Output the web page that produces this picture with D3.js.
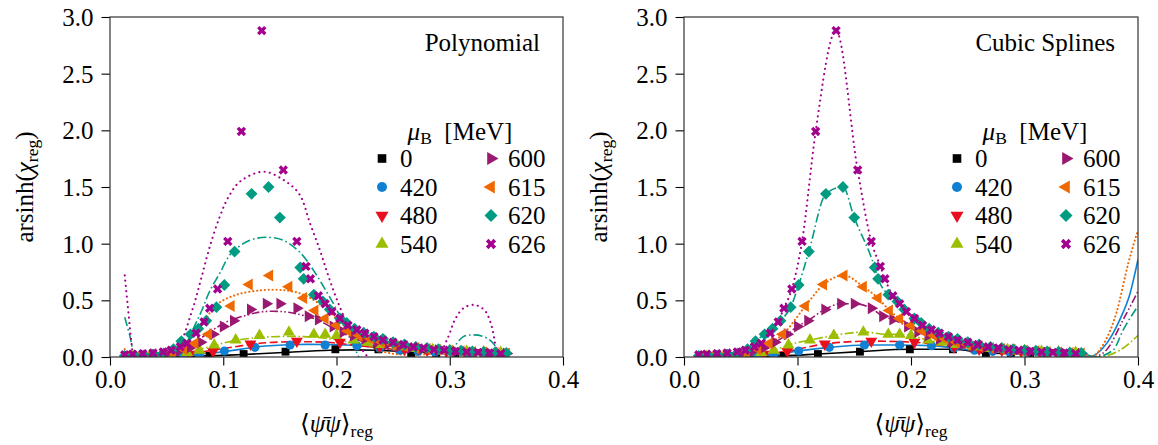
<!DOCTYPE html>
<html>
<head>
<meta charset="utf-8">
<script src="https://cdn.jsdelivr.net/npm/d3@7"></script>
<style>
  body { margin: 0; background: #fff; }
</style>
</head>
<body>
<div id="chart"></div>
<script>
// mu_B values (MeV) and tick labels
const muLabels = ['0', '420', '480', '540', '600', '615', '620', '626'];
const xTicks = [0.0, 0.1, 0.2, 0.3, 0.4];
const yTicks = [0.0, 0.5, 1.0, 1.5, 2.0, 2.5, 3.0];

// measured points [<psibar psi>_reg, arsinh(chi_reg)]
const pts0 = [[0.045,0.003],[0.068,0.006],[0.088,0.01],[0.118,0.026],[0.155,0.047],[0.199,0.068],[0.237,0.068],[0.266,0.035],[0.288,0.03],[0.305,0.027],[0.32,0.024],[0.333,0.022],[0.345,0.02]];
const pts420 = [[0.03,0.005],[0.05,0.01],[0.065,0.015],[0.079,0.02],[0.101,0.053],[0.128,0.085],[0.159,0.106],[0.19,0.106],[0.218,0.1],[0.238,0.08],[0.256,0.06],[0.272,0.05],[0.287,0.045],[0.302,0.04],[0.316,0.035],[0.331,0.03],[0.345,0.025]];
const pts480 = [[0.03,0.005],[0.05,0.01],[0.07,0.025],[0.091,0.05],[0.124,0.115],[0.165,0.14],[0.203,0.13],[0.238,0.09],[0.26,0.07],[0.28,0.06],[0.297,0.05],[0.313,0.045],[0.329,0.04],[0.345,0.035]];
const pts540 = [[0.02,0.005],[0.035,0.01],[0.05,0.02],[0.068,0.04],[0.079,0.06],[0.092,0.106],[0.111,0.15],[0.132,0.19],[0.158,0.22],[0.18,0.2],[0.19,0.2],[0.2,0.19],[0.215,0.15],[0.227,0.13],[0.24,0.11],[0.255,0.09],[0.27,0.075],[0.285,0.065],[0.3,0.055],[0.315,0.05],[0.33,0.045],[0.345,0.04]];
const pts600 = [[0.02,0.01],[0.03,0.015],[0.04,0.02],[0.05,0.03],[0.06,0.05],[0.07,0.08],[0.08,0.13],[0.091,0.2],[0.1,0.27],[0.109,0.32],[0.124,0.42],[0.138,0.47],[0.15,0.47],[0.165,0.43],[0.175,0.36],[0.184,0.33],[0.197,0.27],[0.206,0.22],[0.215,0.19],[0.225,0.16],[0.235,0.13],[0.245,0.11],[0.255,0.09],[0.265,0.08],[0.275,0.07],[0.29,0.06],[0.305,0.05],[0.32,0.04],[0.335,0.035],[0.35,0.03]];
const pts615 = [[0.015,0.01],[0.025,0.012],[0.035,0.015],[0.045,0.02],[0.055,0.04],[0.065,0.07],[0.075,0.12],[0.087,0.2],[0.107,0.45],[0.123,0.64],[0.141,0.72],[0.158,0.62],[0.171,0.52],[0.181,0.41],[0.19,0.34],[0.2,0.28],[0.21,0.23],[0.22,0.19],[0.23,0.16],[0.24,0.13],[0.25,0.11],[0.26,0.095],[0.27,0.08],[0.28,0.07],[0.289,0.065],[0.3,0.055],[0.31,0.05],[0.32,0.045],[0.33,0.04],[0.34,0.035],[0.35,0.03]];
const pts620 = [[0.013,0.01],[0.022,0.012],[0.03,0.015],[0.038,0.02],[0.046,0.025],[0.056,0.07],[0.063,0.14],[0.071,0.2],[0.078,0.25],[0.085,0.32],[0.094,0.44],[0.101,0.635],[0.11,0.93],[0.125,1.44],[0.14,1.5],[0.15,1.23],[0.168,0.79],[0.171,0.69],[0.18,0.55],[0.188,0.49],[0.194,0.42],[0.203,0.34],[0.209,0.3],[0.216,0.25],[0.224,0.215],[0.233,0.18],[0.241,0.16],[0.25,0.13],[0.26,0.11],[0.27,0.09],[0.28,0.08],[0.29,0.07],[0.3,0.06],[0.31,0.055],[0.32,0.05],[0.33,0.045],[0.34,0.04],[0.35,0.035]];
const pts626 = [[0.013,0.02],[0.02,0.025],[0.029,0.03],[0.038,0.035],[0.047,0.045],[0.054,0.06],[0.062,0.09],[0.068,0.12],[0.076,0.21],[0.083,0.31],[0.088,0.43],[0.095,0.6],[0.104,1.02],[0.116,1.99],[0.134,2.88],[0.153,1.65],[0.165,1.02],[0.173,0.8],[0.177,0.69],[0.184,0.54],[0.19,0.47],[0.196,0.4],[0.203,0.34],[0.21,0.28],[0.218,0.24],[0.225,0.21],[0.233,0.18],[0.241,0.15],[0.25,0.13],[0.259,0.11],[0.268,0.09],[0.277,0.08],[0.286,0.065],[0.295,0.06],[0.305,0.05],[0.315,0.045],[0.325,0.04],[0.335,0.035],[0.345,0.03]];

// polynomial fits (left panel)
const poly0 = [[0.045,0.0],[0.088,0.01],[0.118,0.022],[0.153,0.04],[0.194,0.06],[0.236,0.06],[0.266,0.045],[0.3,0.03],[0.348,0.02]];
const poly420 = [[0.03,0.0],[0.07,0.02],[0.103,0.05],[0.13,0.09],[0.162,0.11],[0.191,0.11],[0.22,0.1],[0.25,0.07],[0.28,0.05],[0.31,0.04],[0.345,0.03]];
const poly480 = [[0.03,0.0],[0.07,0.03],[0.103,0.08],[0.138,0.126],[0.165,0.134],[0.191,0.13],[0.22,0.1],[0.25,0.07],[0.28,0.05],[0.31,0.04],[0.345,0.03]];
const poly540 = [[0.02,0.0],[0.045,0.01],[0.065,0.04],[0.088,0.09],[0.103,0.13],[0.124,0.165],[0.147,0.18],[0.171,0.18],[0.191,0.165],[0.212,0.13],[0.235,0.09],[0.26,0.06],[0.29,0.04],[0.32,0.03],[0.345,0.02]];
const poly600 = [[0.02,0.0],[0.05,0.03],[0.07,0.1],[0.088,0.22],[0.103,0.31],[0.121,0.37],[0.135,0.4],[0.153,0.4],[0.165,0.38],[0.183,0.33],[0.194,0.27],[0.21,0.19],[0.23,0.11],[0.25,0.06],[0.28,0.03],[0.31,0.03],[0.345,0.02]];
const poly615 = [[0.013,0.07],[0.02,0.0],[0.035,-0.05],[0.05,0.0],[0.056,0.06],[0.068,0.14],[0.079,0.25],[0.094,0.46],[0.112,0.55],[0.135,0.59],[0.153,0.59],[0.165,0.57],[0.177,0.52],[0.191,0.42],[0.203,0.31],[0.212,0.23],[0.225,0.12],[0.24,0.05],[0.26,0.02],[0.29,0.03],[0.32,0.05],[0.345,0.03]];
const poly620 = [[0.013,0.35],[0.0177,0.18],[0.0195,0.09],[0.022,-0.05],[0.035,-0.25],[0.055,-0.15],[0.066,0.08],[0.0736,0.25],[0.081,0.41],[0.088,0.58],[0.097,0.74],[0.107,0.915],[0.1236,1.03],[0.138,1.056],[0.153,1.03],[0.168,0.92],[0.18,0.76],[0.191,0.58],[0.2,0.42],[0.208,0.25],[0.216,0.08],[0.224,-0.05],[0.26,-0.12],[0.29,-0.05],[0.303,0.08],[0.312,0.18],[0.321,0.195],[0.33,0.18],[0.3385,0.12],[0.345,-0.02]];
const poly626 = [[0.013,0.72],[0.016,0.42],[0.019,0.12],[0.023,-0.15],[0.035,-0.4],[0.05,-0.3],[0.058,-0.05],[0.062,0.09],[0.069,0.3],[0.075,0.49],[0.081,0.71],[0.088,0.97],[0.097,1.24],[0.1045,1.41],[0.115,1.55],[0.1354,1.635],[0.152,1.57],[0.167,1.44],[0.1766,1.18],[0.1854,0.94],[0.194,0.68],[0.203,0.44],[0.212,0.24],[0.2237,0.05],[0.2325,-0.05],[0.25,-0.2],[0.27,-0.22],[0.287,-0.05],[0.2988,0.18],[0.3046,0.33],[0.312,0.43],[0.3214,0.46],[0.331,0.41],[0.337,0.27],[0.34,0.12],[0.342,0.0],[0.345,-0.2]];

// cubic spline tails beyond the last point (right panel)
const tail420 = [[0.356,0.0],[0.3724,0.12],[0.384,0.33],[0.393,0.56],[0.4,0.86]];
const tail540 = [[0.365,0.0],[0.384,0.06],[0.4,0.19]];
const tail600 = [[0.36,0.0],[0.372,0.06],[0.387,0.33],[0.4,0.58]];
const tail615 = [[0.358,0.0],[0.37,0.12],[0.381,0.39],[0.3915,0.83],[0.4,1.12]];
const tail620 = [[0.362,0.0],[0.378,0.06],[0.387,0.24],[0.4,0.45]];

const points = [pts0, pts420, pts480, pts540, pts600, pts615, pts620, pts626];
const polys = [poly0, poly420, poly480, poly540, poly600, poly615, poly620, poly626];
const tails = [[], tail420, [], tail540, tail600, tail615, tail620, []];

// styles
const colors = ['#000000', '#0f80d2', '#ea0f1e', '#9cbe00', '#9a1870', '#f06800', '#009b80', '#a3008e'];
const dashes = [null, null, '8,3.5', '9,2.5,1.6,2.5', '8,2.4,1.6,2.4,1.6,2.4', '0.1,3.8', '9,3,1.6,3', '0.1,5.2'];
const dotted = [false, false, false, false, false, true, false, true];
const symbols = [
  { type: d3.symbolSquare, size: 62, rot: 0 },
  { type: d3.symbolCircle, size: 66, rot: 0 },
  { type: d3.symbolTriangle, size: 62, rot: 180 },
  { type: d3.symbolTriangle, size: 62, rot: 0 },
  { type: d3.symbolTriangle, size: 62, rot: 90 },
  { type: d3.symbolTriangle, size: 62, rot: -90 },
  { type: d3.symbolSquare, size: 70, rot: 45 },
  { type: d3.symbolCross, size: 55, rot: 45 }
];

const W = 1158, H = 445;
const plotTop = 17, plotBottom = 357;
const FS = 25;
const FONT = '"Liberation Serif", "DejaVu Serif", serif';

const svg = d3.select('#chart').append('svg')
  .attr('width', W).attr('height', H)
  .attr('font-family', FONT);

function drawPanel(id, x0, x1, title, spline) {
  const x = d3.scaleLinear().domain([0, 0.4]).range([x0, x1]);
  const y = d3.scaleLinear().domain([0, 3]).range([plotBottom, plotTop]);
  const g = svg.append('g').attr('font-family', FONT);

  g.append('clipPath').attr('id', 'clip' + id)
    .append('rect').attr('x', x0).attr('y', plotTop)
    .attr('width', x1 - x0).attr('height', plotBottom - plotTop);

  // axes
  const ax = g.append('g')
    .attr('transform', `translate(0,${plotBottom})`)
    .call(d3.axisBottom(x).tickValues(xTicks).tickFormat(d3.format('.1f')).tickSize(8.5).tickPadding(5));
  const ay = g.append('g')
    .attr('transform', `translate(${x0},0)`)
    .call(d3.axisLeft(y).tickValues(yTicks).tickFormat(d3.format('.1f')).tickSize(8.5).tickPadding(8));
  [ax, ay].forEach(a => {
    a.select('.domain').remove();
    a.attr('font-family', FONT).attr('font-size', FS);
    a.selectAll('.tick line').attr('stroke', '#000').attr('stroke-width', 1.1);
    a.selectAll('.tick text').attr('fill', '#000');
  });
  ay.selectAll('.tick text').attr('dy', '0.34em');

  // curves + markers
  const plot = g.append('g').attr('clip-path', `url(#clip${id})`);
  const line = d3.line().x(d => x(d[0])).y(d => y(d[1]));
  points.forEach((pts, i) => {
    let curveData, curve;
    if (spline) {
      curveData = pts.concat(tails[i]);
      curve = d3.curveMonotoneX;
    } else {
      curveData = polys[i];
      curve = d3.curveCatmullRom.alpha(0.5);
    }
    plot.append('path')
      .attr('d', line.curve(curve)(curveData))
      .attr('fill', 'none')
      .attr('stroke', colors[i])
      .attr('stroke-width', dotted[i] ? 2.1 : 1.6)
      .attr('stroke-dasharray', dashes[i])
      .attr('stroke-linecap', dotted[i] ? 'round' : 'butt');
  });
  points.forEach((pts, i) => {
    const s = symbols[i];
    plot.selectAll(null).data(pts).enter().append('path')
      .attr('d', d3.symbol().type(s.type).size(s.size)())
      .attr('transform', d => `translate(${x(d[0])},${y(d[1])}) rotate(${s.rot})`)
      .attr('fill', colors[i]);
  });

  // frame
  g.append('rect')
    .attr('x', x0).attr('y', plotTop)
    .attr('width', x1 - x0).attr('height', plotBottom - plotTop)
    .attr('fill', 'none').attr('stroke', '#333').attr('stroke-width', 1.2);

  // title
  g.append('text')
    .attr('x', x1 - 23).attr('y', 51)
    .attr('text-anchor', 'end').attr('font-size', FS)
    .text(title);

  // legend
  const lt = g.append('text')
    .attr('x', x1 - 103).attr('y', 140)
    .attr('text-anchor', 'middle').attr('font-size', FS);
  lt.append('tspan').attr('font-style', 'italic').text('μ');
  lt.append('tspan').attr('font-size', FS * 0.7).attr('dy', 4).text('B');
  lt.append('tspan').attr('dy', -4).text('\u2002[MeV]');

  const rowY = [158.5, 187, 215.5, 244];
  muLabels.forEach((lab, i) => {
    const col = Math.floor(i / 4), row = i % 4;
    const mx = col === 0 ? x1 - 181 : x1 - 72;
    const tx = col === 0 ? x1 - 163 : x1 - 55;
    const s = symbols[i];
    g.append('path')
      .attr('d', d3.symbol().type(s.type).size(s.size * 1.2)())
      .attr('transform', `translate(${mx},${rowY[row]}) rotate(${s.rot})`)
      .attr('fill', colors[i]);
    g.append('text')
      .attr('x', tx).attr('y', rowY[row] + 8.5)
      .attr('font-size', FS)
      .text(lab);
  });

  // axis labels
  const xl = g.append('text')
    .attr('x', (x0 + x1) / 2).attr('y', 432)
    .attr('text-anchor', 'middle').attr('font-size', FS);
  xl.append('tspan').text('\u27e8');
  xl.append('tspan').attr('font-style', 'italic').text('\u03c8\u0304\u03c8');
  xl.append('tspan').text('\u27e9');
  xl.append('tspan').attr('font-size', FS * 0.7).attr('dy', 5).text('reg');

  const yl = g.append('text')
    .attr('transform', `translate(${x0 - 77},${(plotTop + plotBottom) / 2}) rotate(-90)`)
    .attr('text-anchor', 'middle').attr('font-size', FS);
  yl.append('tspan').text('arsinh(');
  yl.append('tspan').attr('font-style', 'italic').text('χ');
  yl.append('tspan').attr('font-size', FS * 0.7).attr('dy', 5).text('reg');
  yl.append('tspan').attr('dy', -5).text(')');
}

drawPanel('L', 110, 563, 'Polynomial', false);
drawPanel('R', 684, 1138, 'Cubic Splines', true);
</script>
</body>
</html>
